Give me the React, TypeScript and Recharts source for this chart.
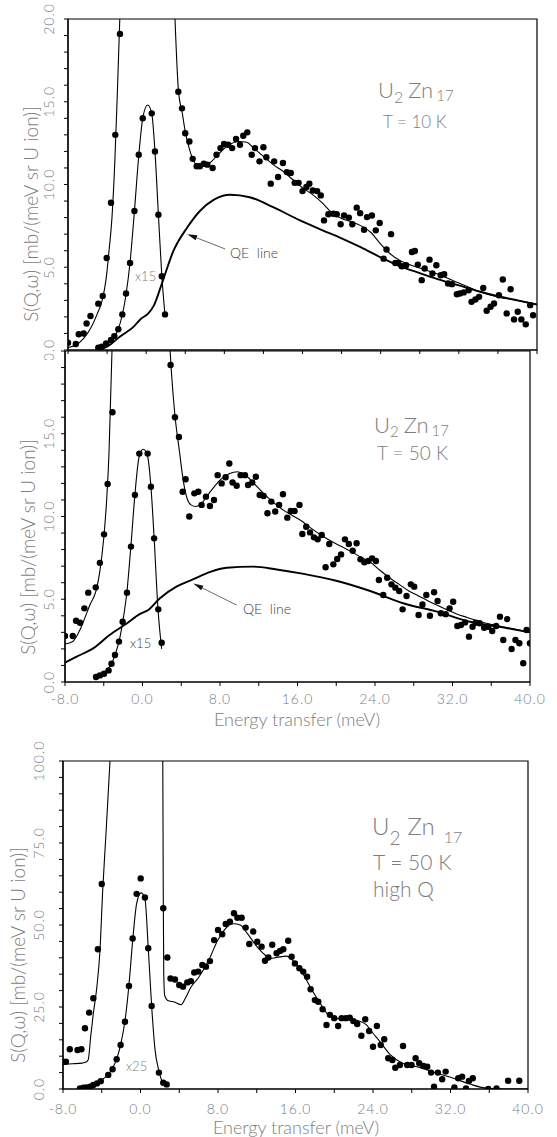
import React from "react";
import {
  ComposedChart,
  Line,
  Scatter,
  XAxis,
  YAxis,
  ReferenceArea,
  ReferenceLine,
} from "recharts";

// energy transfer (meV), S(Q,w)
const dots10K = [
  [-8.0, 0.44], [-7.2, 0.36], [-6.9, 0.95], [-6.4, 1.0], [-6.1, 1.6], [-5.7, 2.05], [-4.9, 2.8], [-4.45, 3.27],
  [-4.04, 5.56], [-3.6, 8.9], [-3.16, 13.0], [-2.68, 19.1],
  [3.29, 15.6], [3.67, 14.6], [4.0, 13.1], [4.42, 12.6], [4.76, 11.55], [5.17, 11.1], [5.5, 11.1], [5.9, 11.25],
  [6.26, 11.2], [6.8, 11.0], [7.2, 11.8], [7.6, 12.2], [7.97, 12.45], [8.4, 12.4], [8.8, 12.2], [9.2, 12.75],
  [9.6, 12.4], [9.94, 12.95], [10.35, 13.15], [10.8, 11.8], [11.14, 12.2], [11.6, 11.4], [12.0, 12.25], [12.3, 11.65],
  [12.75, 10.05], [13.1, 11.4], [13.5, 10.45], [14.0, 11.3], [14.4, 10.75], [14.8, 10.7], [15.2, 10.1], [15.6, 10.1],
  [16.0, 9.6], [16.4, 9.85], [16.7, 10.05], [17.05, 9.64], [17.5, 9.6], [17.87, 9.34], [18.2, 7.83], [18.65, 8.2],
  [19.15, 8.23], [19.5, 8.2], [19.9, 7.6], [20.25, 8.13], [20.75, 8.0], [21.1, 7.6], [21.55, 8.6], [21.9, 8.27],
  [22.3, 7.27], [22.6, 8.03], [23.1, 8.13], [23.5, 7.23], [23.9, 7.67], [24.3, 5.52], [24.6, 6.07], [25.06, 7.0],
  [25.5, 5.26], [25.8, 5.26], [26.15, 5.06], [26.6, 5.12], [27.2, 5.92], [27.5, 5.98], [27.8, 5.16], [28.2, 4.22],
  [28.5, 4.92], [29.0, 5.46], [29.3, 4.62], [29.7, 5.12], [30.15, 4.52], [30.5, 4.58], [30.9, 4.02], [31.3, 3.98],
  [31.8, 3.37], [32.1, 3.41], [32.5, 3.48], [33.0, 3.61], [33.3, 2.91], [33.7, 3.05], [34.07, 3.21], [34.5, 3.75],
  [34.85, 2.37], [35.25, 2.61], [35.6, 2.81], [36.1, 3.31], [36.5, 4.26], [36.9, 2.21], [37.3, 3.67], [37.65, 1.85],
  [38.03, 2.31], [38.4, 1.85], [38.85, 1.55], [39.3, 2.71], [39.6, 2.1],
];
const fitLeft10K = [
  [-8, 0.15], [-7.2, 0.3], [-6.4, 0.7], [-5.6, 1.4], [-5.0, 2.2], [-4.5, 3.0], [-4.1, 4.3], [-3.8, 6.0],
  [-3.5, 8.0], [-3.2, 11.5], [-2.95, 15.5], [-2.7, 20],
];
const fitRight10K = [
  [2.95, 20], [3.3, 15.7], [3.7, 14.3], [4.0, 13.2], [4.4, 12.2], [4.8, 11.5], [5.3, 11.15], [5.8, 11.1],
  [6.5, 11.3], [7.5, 11.9], [8.5, 12.4], [9.5, 12.6], [10.3, 12.55], [11.0, 12.2], [12.0, 11.7], [13.0, 11.2],
  [14.0, 10.8], [15.0, 10.3], [16.0, 9.8], [17.0, 9.4], [18.0, 8.9], [19.0, 8.3], [20.0, 7.95], [21.0, 7.75],
  [22.0, 7.5], [23.0, 7.1], [24.0, 6.4], [25.0, 5.8], [26.0, 5.4], [27.0, 5.15], [28.0, 4.95], [30.0, 4.55],
  [32.0, 4.05], [34.0, 3.55], [36.0, 3.2], [38.0, 3.0], [40.0, 2.75],
];
const elDots10K = [
  [-4.9, 0.14], [-4.55, 0.2], [-4.1, 0.4], [-3.6, 0.6], [-3.26, 0.84], [-2.85, 1.25], [-2.44, 2.15], [-2.06, 3.41],
  [-1.65, 5.26], [-1.2, 8.4], [-0.76, 11.8], [-0.35, 14.0], [0.57, 14.3], [0.9, 12.0], [1.25, 8.17], [1.6, 4.46],
  [1.93, 2.15],
];
const elFit10K = [
  [-5.2, 0], [-4.5, 0.15], [-3.5, 0.6], [-2.9, 1.2], [-2.45, 2.1], [-2.05, 3.4], [-1.65, 5.3], [-1.2, 8.4],
  [-0.75, 11.8], [-0.35, 14.0], [0.15, 14.8], [0.57, 14.3], [0.9, 12.0], [1.25, 8.2], [1.6, 4.5], [1.93, 2.1],
];
const qe10K = [
  [-5.0, 0], [-4.0, 0.2], [-2.7, 0.8], [-1.3, 1.4], [-0.5, 1.9], [0.2, 2.2], [0.8, 2.7], [1.6, 4.0], [2.8, 6.0],
  [4.2, 7.4], [5.5, 8.4], [6.9, 9.07], [8.6, 9.38], [10.6, 9.23], [13.0, 8.63], [15.75, 7.83], [18.0, 7.25],
  [20.0, 6.75], [22.0, 6.2], [24.0, 5.6], [26.0, 5.05], [28.0, 4.65], [30.0, 4.25], [32.0, 3.9], [34.0, 3.55],
  [36.0, 3.25], [38.0, 3.0], [40.0, 2.75],
];
const qeArrow10K = [[8.1, 6.1], [4.2, 7.0]];

const dots50K = [
  [-8.0, 2.78], [-7.2, 2.78], [-6.86, 3.7], [-6.45, 3.58], [-6.0, 4.45], [-5.6, 5.4], [-4.83, 5.72], [-4.4, 7.2],
  [-3.97, 8.92], [-3.6, 11.96], [-3.1, 16.3],
  [2.9, 19.15], [3.35, 16.0], [3.76, 14.8], [4.15, 11.5], [4.45, 12.25], [4.83, 10.0], [5.35, 11.4], [5.76, 11.5],
  [6.1, 10.7], [6.55, 11.2], [6.96, 10.63], [7.38, 11.0], [7.76, 12.5], [8.17, 12.0], [8.58, 12.37], [8.96, 13.2],
  [9.3, 12.05], [9.72, 11.86], [10.13, 12.5], [10.58, 12.5], [10.9, 11.9], [11.33, 12.05], [11.7, 12.4], [12.1, 11.3],
  [12.5, 11.24], [12.9, 10.2], [13.3, 10.9], [13.7, 10.3], [14.1, 10.7], [14.5, 11.34], [14.95, 9.93], [15.3, 10.33],
  [15.7, 10.33], [16.2, 10.7], [16.5, 8.94], [16.9, 9.38], [17.3, 9.04], [17.7, 8.74], [18.08, 8.62], [18.5, 8.88],
  [18.9, 6.93], [19.28, 8.34], [19.7, 7.11], [20.1, 7.43], [20.5, 7.71], [20.9, 8.62], [21.3, 8.34], [21.7, 7.93],
  [22.1, 8.38], [22.5, 7.41], [22.9, 7.23], [23.3, 7.31], [23.7, 7.47], [24.1, 7.31], [24.4, 6.16], [24.85, 5.26],
  [25.26, 6.3], [25.7, 5.9], [26.1, 5.7], [26.5, 5.5], [26.85, 4.39], [27.26, 5.2], [27.7, 5.9], [28.05, 5.76],
  [28.5, 4.05], [28.9, 4.69], [29.3, 5.26], [29.67, 4.0], [30.1, 5.42], [30.46, 4.9], [30.8, 4.15], [31.3, 4.1],
  [31.7, 4.45], [32.07, 4.85], [32.5, 3.38], [32.87, 3.44], [33.3, 3.6], [33.7, 2.74], [34.07, 3.34], [34.4, 3.58],
  [34.8, 3.55], [35.27, 3.28], [35.7, 3.34], [36.1, 3.08], [36.5, 3.38], [36.9, 3.95], [37.24, 2.54], [37.65, 3.8],
  [38.1, 1.99], [38.5, 2.54], [38.9, 2.34], [39.3, 1.13], [39.65, 3.14], [40.0, 2.34],
];
const fitLeft50K = [
  [-8, 2.3], [-7.2, 2.45], [-6.5, 3.1], [-6.0, 3.8], [-5.4, 4.7], [-4.8, 5.5], [-4.4, 6.7], [-4.0, 8.7],
  [-3.7, 11.0], [-3.45, 14.0], [-3.3, 17.0], [-3.15, 20],
];
const fitRight50K = [
  [2.85, 20], [3.0, 18.6], [3.35, 16.1], [3.8, 14.0], [4.2, 12.2], [4.6, 11.1], [5.0, 10.7], [5.5, 10.6],
  [6.0, 10.75], [7.0, 11.5], [8.0, 12.2], [9.0, 12.6], [9.8, 12.7], [10.5, 12.55], [11.5, 12.0], [12.5, 11.4],
  [13.5, 10.85], [14.5, 10.4], [15.5, 10.05], [16.5, 9.7], [17.5, 9.25], [18.5, 8.85], [19.5, 8.5], [20.5, 8.2],
  [21.5, 7.9], [22.5, 7.55], [23.5, 7.25], [24.5, 6.75], [25.5, 6.3], [26.5, 5.9], [27.5, 5.5], [28.5, 5.2],
  [29.5, 4.9], [30.5, 4.62], [31.5, 4.35], [32.5, 4.1], [33.5, 3.9], [34.5, 3.7], [35.5, 3.55], [36.5, 3.42],
  [37.5, 3.3], [38.5, 3.18], [40.0, 3.0],
];
const elDots50K = [
  [-4.8, 0.3], [-4.4, 0.4], [-3.97, 0.5], [-3.5, 0.7], [-3.2, 1.1], [-2.84, 1.63], [-2.43, 2.44], [-2.05, 3.64],
  [-1.6, 5.4], [-1.19, 8.18], [-0.78, 11.3], [-0.33, 13.8], [0.53, 13.8], [0.87, 11.8], [1.2, 8.68], [1.63, 4.39],
  [1.98, 2.37],
];
const elFit50K = [
  [-5.0, 0.2], [-4.4, 0.4], [-3.7, 0.7], [-3.2, 1.1], [-2.8, 1.7], [-2.4, 2.5], [-2.05, 3.6], [-1.6, 5.5],
  [-1.2, 8.2], [-0.8, 11.2], [-0.35, 13.6], [0.08, 14.06], [0.5, 13.7], [0.87, 11.8], [1.2, 8.7], [1.6, 4.4],
  [1.98, 2.0],
];
const qe50K = [
  [-8, 1.17], [-6.8, 1.53], [-5.1, 2.03], [-3.4, 2.84], [-1.6, 3.55], [-0.3, 4.1], [0.6, 4.35], [1.8, 5.06],
  [3.5, 5.76], [5.2, 6.2], [7.0, 6.66], [8.7, 6.9], [11.4, 6.97], [13.85, 6.8], [16.5, 6.55], [20.0, 6.12],
  [23.5, 5.5], [26.9, 4.76], [30.4, 4.25], [33.8, 3.64], [37.2, 3.3], [40.0, 3.0],
];
const qeArrow50K = [[9.7, 4.65], [5.25, 5.95]];

const dotsHighQ = [
  [-8.0, 8.3], [-7.7, 8.3], [-7.3, 12.1], [-6.5, 11.9], [-6.1, 12.1], [-5.73, 18.5], [-5.3, 23.3], [-4.87, 27.65],
  [-4.4, 42.6], [-4.0, 62.5],
  [2.35, 55.1], [2.77, 40.1], [3.1, 33.7], [3.56, 33.4], [4.0, 31.7], [4.4, 31.2], [4.83, 32.5], [5.2, 32.9],
  [5.55, 35.5], [5.96, 35.8], [6.38, 37.8], [6.76, 37.3], [7.17, 39.0], [7.6, 45.4], [8.0, 48.5], [8.44, 47.2],
  [8.8, 50.3], [9.23, 51.0], [9.65, 53.6], [10.0, 52.2], [10.44, 52.2], [10.85, 49.2], [11.23, 44.2], [11.64, 48.0],
  [12.05, 44.9], [12.5, 43.4], [12.85, 39.1], [13.2, 40.1], [13.6, 44.0], [14.05, 41.4], [14.4, 42.1], [14.74, 42.6],
  [15.25, 45.2], [15.6, 40.3], [15.94, 38.3], [16.4, 36.8], [16.8, 35.8], [17.2, 34.2], [17.56, 30.4], [18.0, 27.1],
  [18.35, 26.6], [18.8, 24.3], [19.2, 19.5], [19.55, 22.6], [20.0, 21.6], [20.4, 19.2], [20.76, 21.6], [21.2, 21.6],
  [21.6, 21.7], [21.96, 20.7], [22.37, 19.8], [22.8, 16.25], [23.2, 21.25], [23.6, 17.7], [24.0, 12.9], [24.4, 19.2],
  [24.8, 13.4], [25.16, 15.15], [25.57, 9.36], [26.0, 8.84], [26.3, 6.5], [26.78, 7.3], [27.1, 13.1], [27.53, 7.3],
  [27.98, 7.3], [28.4, 9.36], [28.77, 7.84], [29.2, 7.0], [29.6, 6.8], [30.0, 5.0], [30.3, 0.7], [30.7, 5.0],
  [31.14, 2.96], [31.5, 5.3], [32.4, 0.5], [32.8, 3.26], [33.2, 3.76], [33.6, 0.2], [33.9, 2.44], [34.3, 3.26],
  [35.9, 0.0], [36.75, 0.2], [37.95, 2.53], [39.1, 2.53],
];
const fitLeftHighQ = [
  [-8, 7.6], [-7, 7.7], [-6, 7.9], [-5.6, 8.2], [-5.39, 9.0], [-5.14, 16], [-4.87, 23], [-4.52, 30.7],
  [-4.18, 42.4], [-3.9, 60.7], [-3.56, 78], [-3.15, 100],
];
const fitRightHighQ = [
  [2.3, 100], [2.35, 60], [2.4, 35], [2.5, 28.5], [2.8, 27.0], [3.5, 26.5], [4.2, 25.7], [4.6, 27.5],
  [5.2, 31], [6.0, 34], [7.0, 39], [8.0, 45.5], [8.8, 49], [9.6, 50.4], [10.3, 50], [11.0, 47.5], [12.0, 43.5],
  [12.8, 41], [13.4, 39.8], [14.2, 40.2], [15.1, 40.5], [16.1, 37.8], [17.0, 34], [17.5, 31.2], [18.5, 26.4],
  [19.2, 23.2], [19.9, 21.6], [20.8, 21.4], [21.6, 21.4], [22.5, 20.8], [23.3, 19.6], [24.0, 17], [24.7, 14.5],
  [25.8, 10.4], [27.1, 7.8], [28.8, 6.6], [30.6, 4.8], [32.3, 3.3], [34.0, 1.5], [35.8, 0.2], [37.5, 0], [40, 0],
];
const elDotsHighQ = [
  [-6.25, 0.2], [-5.9, 0.4], [-5.57, 0.5], [-5.2, 0.7], [-4.87, 1.2], [-4.5, 1.7], [-4.1, 2.4], [-3.33, 4.3],
  [-2.88, 6.0], [-2.46, 9.05], [-2.05, 13.4], [-1.6, 20.5], [-1.19, 31.4], [-0.81, 45.9], [-0.4, 59.5],
  [0.02, 64.2], [0.46, 58.4], [0.8, 42.9], [1.15, 25.3], [1.9, 5.0], [2.35, 1.9], [2.7, 1.4],
];
const elFitHighQ = [
  [-6.3, 0], [-5.5, 0.5], [-4.5, 1.6], [-3.8, 3.2], [-3.3, 4.5], [-2.9, 6.3], [-2.45, 9.2], [-2.05, 13.5],
  [-1.6, 20.8], [-1.2, 31.5], [-0.8, 45.5], [-0.4, 56.5], [0.05, 59.8], [0.45, 58.2], [0.8, 43], [1.15, 25.3],
  [1.5, 12], [1.9, 5.5], [2.3, 2.0], [2.7, 1.2],
];

const xTicks = [-8, -4, 0, 4, 8, 12, 16, 20, 24, 28, 32, 36, 40];
const xLabels = [-8, 0, 8, 16, 24, 32, 40];
const yTicks20 = [0, 1, 2, 3, 4, 5, 6, 7, 8, 9, 10, 11, 12, 13, 14, 15, 16, 17, 18, 19, 20];
const yTicks100 = [0, 5, 10, 15, 20, 25, 30, 35, 40, 45, 50, 55, 60, 65, 70, 75, 80, 85, 90, 95, 100];
const yLabelsTop = [0, 5, 10, 15, 20];
const yLabelsMid = [0, 5, 10, 15];
const yLabelsBottom = [0, 25, 50, 75, 100];

const GRAY = "#7d7d7d";
const FONT = "Lato, 'Liberation Sans', Arial, sans-serif";
const Y_TITLE = "S(Q,\u03c9) [mb/(meV sr U ion)]";

const rows = (a: number[][]) => a.map(([e, s]) => ({ e, s }));

const dotShape = (p: any) => <circle cx={p.cx} cy={p.cy} r={3.2} fill="#000" />;

const arrowShape = (p: any) => {
  const { x1, y1, x2, y2 } = p;
  const ang = Math.atan2(y2 - y1, x2 - x1);
  const bx = x2 - 10 * Math.cos(ang);
  const by = y2 - 10 * Math.sin(ang);
  const ox = -Math.sin(ang) * 2.6;
  const oy = Math.cos(ang) * 2.6;
  return (
    <g>
      <line x1={x1} y1={y1} x2={bx} y2={by} stroke="#444" strokeWidth={0.8} />
      <polygon points={`${x2},${y2} ${bx + ox},${by + oy} ${bx - ox},${by - oy}`} fill="#111" />
    </g>
  );
};

const xTick = (show: boolean, dy: number) => (p: any) => {
  const v = p.payload.value;
  if (!show || !xLabels.includes(v)) return <g />;
  return (
    <text x={p.x} y={p.y + dy} textAnchor="middle" fontSize={14} fontWeight={300} letterSpacing={1} fill={GRAY} fontFamily={FONT}>
      {v.toFixed(1)}
    </text>
  );
};

const yTick = (labels: number[], dx: number) => (p: any) => {
  const v = p.payload.value;
  if (!labels.includes(v)) return <g />;
  const x = p.x + dx;
  return (
    <text
      x={x}
      y={p.y}
      transform={`rotate(-90 ${x} ${p.y})`}
      textAnchor="middle"
      dominantBaseline="central"
      fontSize={14}
      fontWeight={300}
      letterSpacing={1}
      fill={GRAY}
      fontFamily={FONT}
    >
      {v.toFixed(1)}
    </text>
  );
};

type PanelProps = {
  top: number;
  height: number;
  left: number;
  right: number;
  marginTop: number;
  xHeight: number;
  yMax: number;
  yTicks: number[];
  yLabels: number[];
  yDx: number;
  showX: boolean;
  xDy: number;
  dots: number[][];
  fitLeft: number[][];
  fitRight: number[][];
  elDots: number[][];
  elFit: number[][];
  qe?: number[][];
  arrow?: number[][];
};

function Panel(p: PanelProps) {
  return (
    <div style={{ position: "absolute", left: 0, top: p.top }}>
      <ComposedChart
        width={557}
        height={p.height}
        margin={{ top: p.marginTop, right: 557 - p.right, left: 0, bottom: 0 }}
      >
        <XAxis
          type="number"
          dataKey="e"
          domain={[-8, 40]}
          ticks={xTicks}
          allowDataOverflow
          height={p.xHeight}
          axisLine={{ stroke: "#000", strokeWidth: 1.2 }}
          tickLine={{ stroke: "#000" }}
          tickSize={4}
          tick={xTick(p.showX, p.xDy)}
          interval={0}
        />
        <YAxis
          type="number"
          dataKey="s"
          domain={[0, p.yMax]}
          ticks={p.yTicks}
          allowDataOverflow
          width={p.left}
          axisLine={{ stroke: "#000", strokeWidth: 1.2 }}
          tickLine={{ stroke: "#000" }}
          tickSize={4}
          tick={yTick(p.yLabels, p.yDx)}
          interval={0}
        />
        <ReferenceArea x1={-8} x2={40} y1={0} y2={p.yMax} fill="none" stroke="#000" strokeWidth={1.2} />
        {p.qe && (
          <Line data={rows(p.qe)} dataKey="s" type="monotone" stroke="#000" strokeWidth={1.9} dot={false} isAnimationActive={false} />
        )}
        <Line data={rows(p.fitLeft)} dataKey="s" type="monotone" stroke="#000" strokeWidth={1.1} dot={false} isAnimationActive={false} />
        <Line data={rows(p.fitRight)} dataKey="s" type="monotone" stroke="#000" strokeWidth={1.1} dot={false} isAnimationActive={false} />
        <Line data={rows(p.elFit)} dataKey="s" type="monotone" stroke="#000" strokeWidth={1.1} dot={false} isAnimationActive={false} />
        <Scatter data={rows(p.dots)} dataKey="s" shape={dotShape} isAnimationActive={false} />
        <Scatter data={rows(p.elDots)} dataKey="s" shape={dotShape} isAnimationActive={false} />
        {p.arrow && (
          <ReferenceLine
            segment={[
              { x: p.arrow[0][0], y: p.arrow[0][1] },
              { x: p.arrow[1][0], y: p.arrow[1][1] },
            ]}
            shape={arrowShape}
          />
        )}
      </ComposedChart>
    </div>
  );
}

const t = { fill: GRAY, fontFamily: FONT, fontWeight: 300 } as const;

function Notes() {
  return (
    <svg width={557} height={1137} style={{ position: "absolute", left: 0, top: 0, pointerEvents: "none" }}>
      {/* top panel */}
      <text {...t} x={30} y={214} fontSize={19} textAnchor="middle" dominantBaseline="central" transform="rotate(-90 30 214)">
        {Y_TITLE}
      </text>
      <text {...t} x={378} y={98} fontSize={22}>
        U<tspan fontSize={16} dy={5}>2</tspan>
        <tspan dx={5} dy={-5}>Zn</tspan>
        <tspan fontSize={15} dx={3} dy={3}>17</tspan>
      </text>
      <text {...t} x={383} y={128} fontSize={17}>T = 10 K</text>
      <text {...t} x={230} y={258} fontSize={14} fill="#444">QE{"\u00a0\u00a0"}line</text>
      <text {...t} x={135} y={281} fontSize={13}>x15</text>

      {/* middle panel */}
      <text {...t} x={27} y={547} fontSize={19} textAnchor="middle" dominantBaseline="central" transform="rotate(-90 27 547)">
        {Y_TITLE}
      </text>
      <text {...t} x={374} y={433} fontSize={22}>
        U<tspan fontSize={15} dy={4}>2</tspan>
        <tspan dx={5} dy={-4}>Zn</tspan>
        <tspan fontSize={15} dx={3} dy={3}>17</tspan>
      </text>
      <text {...t} x={377} y={460} fontSize={19}>T = 50 K</text>
      <text {...t} x={243} y={614} fontSize={14} fill="#444">QE{"\u00a0\u00a0"}line</text>
      <text {...t} x={130} y={648} fontSize={13} fill="#444">x15</text>
      <text {...t} x={297} y={726} fontSize={18} textAnchor="middle">Energy transfer (meV)</text>

      {/* bottom panel */}
      <text {...t} x={17} y={955} fontSize={19} textAnchor="middle" dominantBaseline="central" transform="rotate(-90 17 955)">
        {Y_TITLE}
      </text>
      <text {...t} x={372} y={835} fontSize={24}>
        U<tspan fontSize={19} dy={10}>2</tspan>
        <tspan dx={7} dy={-10}>Zn</tspan>
        <tspan fontSize={16} dx={9} dy={8}>17</tspan>
      </text>
      <text {...t} x={373} y={870} fontSize={21}>T = 50 K</text>
      <text {...t} x={373} y={897} fontSize={21}>high Q</text>
      <text {...t} x={126} y={1071} fontSize={13}>x25</text>
      <text {...t} x={296} y={1134} fontSize={18} textAnchor="middle">Energy transfer (meV)</text>
    </svg>
  );
}

export default function App() {
  return (
    <div style={{ position: "absolute", left: 0, top: 0, width: 557, height: 1137, background: "#fff" }}>
      <Panel
        top={0}
        height={360}
        left={68}
        right={537}
        marginTop={19}
        xHeight={10}
        yMax={20}
        yTicks={yTicks20}
        yLabels={yLabelsTop}
        yDx={-14}
        showX={false}
        xDy={0}
        dots={dots10K}
        fitLeft={fitLeft10K}
        fitRight={fitRight10K}
        elDots={elDots10K}
        elFit={elFit10K}
        qe={qe10K}
        arrow={qeArrow10K}
      />
      <Panel
        top={340}
        height={395}
        left={65}
        right={530}
        marginTop={11}
        xHeight={53}
        yMax={20}
        yTicks={yTicks20}
        yLabels={yLabelsMid}
        yDx={-11}
        showX
        xDy={16}
        dots={dots50K}
        fitLeft={fitLeft50K}
        fitRight={fitRight50K}
        elDots={elDots50K}
        elFit={elFit50K}
        qe={qe50K}
        arrow={qeArrow50K}
      />
      <Panel
        top={735}
        height={402}
        left={63}
        right={528}
        marginTop={26}
        xHeight={48}
        yMax={100}
        yTicks={yTicks100}
        yLabels={yLabelsBottom}
        yDx={-19}
        showX
        xDy={19}
        dots={dotsHighQ}
        fitLeft={fitLeftHighQ}
        fitRight={fitRightHighQ}
        elDots={elDotsHighQ}
        elFit={elFitHighQ}
      />
      <Notes />
    </div>
  );
}
